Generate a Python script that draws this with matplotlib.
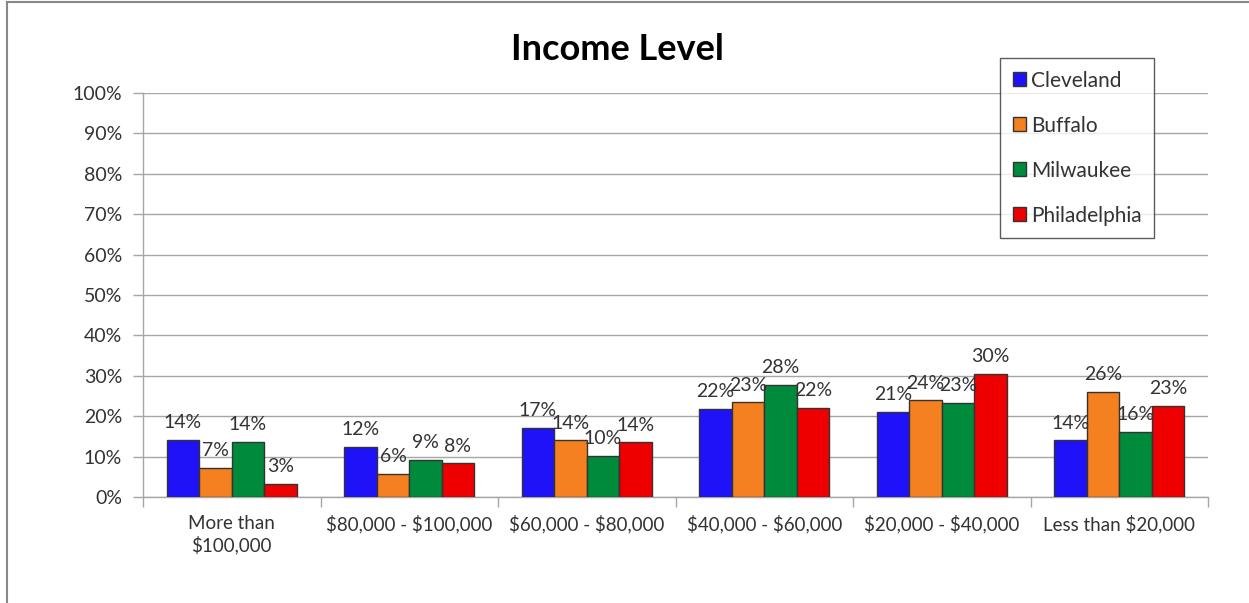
import numpy as np
import matplotlib.pyplot as plt
from matplotlib.lines import Line2D
from matplotlib.ticker import PercentFormatter

plt.rcParams['font.family'] = ['Lato', 'DejaVu Sans']
plt.rcParams['text.parse_math'] = False

categories = ['More than\n$100,000', '$80,000 - $100,000', '$60,000 - $80,000',
              '$40,000 - $60,000', '$20,000 - $40,000', 'Less than $20,000']
cities = ['Cleveland', 'Buffalo', 'Milwaukee', 'Philadelphia']
colors = ['#1F12F9', '#F5801F', '#008A3C', '#EE0000']

cleveland = [0.141, 0.124, 0.172, 0.218, 0.210, 0.140]
buffalo = [0.073, 0.056, 0.140, 0.234, 0.239, 0.259]
milwaukee = [0.136, 0.092, 0.102, 0.277, 0.232, 0.162]
philadelphia = [0.032, 0.083, 0.135, 0.220, 0.304, 0.226]
series = [cleveland, buffalo, milwaukee, philadelphia]

fs = 14

fig = plt.figure(figsize=(12.49, 6.03), dpi=100)
ax = fig.add_axes([143 / 1249, 1 - 497 / 603, (1208 - 143) / 1249, (497 - 93) / 603])

x = np.arange(len(categories))
width = 0.183
for i, (vals, name, c) in enumerate(zip(series, cities, colors)):
    pos = x + (i - 1.5) * width
    bars = ax.bar(pos, vals, width, color=c, edgecolor='#333333', linewidth=1.0,
                  label=name, zorder=3)
    for b, v in zip(bars, vals):
        ax.text(b.get_x() + b.get_width() / 2, v + 0.022, f'{v:.0%}',
                ha='center', va='bottom', fontsize=fs, color='#333333', zorder=4)

ax.set_xlim(-0.5, len(categories) - 0.5)
ax.set_ylim(0, 1)
ax.set_yticks(np.arange(0, 1.01, 0.1))
ax.yaxis.set_major_formatter(PercentFormatter(1.0, decimals=0))
ax.yaxis.grid(True, color='#A6A6A6', linewidth=1.0, zorder=0)

ax.set_xticks(x)
ax.set_xticklabels(categories, fontsize=13.5, color='#333333', linespacing=1.25)
ax.set_xticks(np.arange(-0.5, len(categories)), minor=True)
ax.tick_params(axis='x', which='major', length=0, pad=13)
ax.tick_params(axis='x', which='minor', length=7, color='#A6A6A6', width=1)
ax.tick_params(axis='y', length=7, color='#A6A6A6', width=1, labelsize=fs,
               labelcolor='#333333', pad=8)

for side in ['top', 'right']:
    ax.spines[side].set_visible(False)
for side in ['left', 'bottom']:
    ax.spines[side].set_color('#A6A6A6')
    ax.spines[side].set_linewidth(1.0)

fig.text(617 / 1249, 1 - 50 / 603, 'Income Level', ha='center', va='center',
         fontsize=26, fontweight='bold')

leg = ax.legend(loc='upper left', bbox_to_anchor=((1000 - 143) / (1208 - 143), 1 + (93 - 58) / 404),
                frameon=True, fancybox=False, fontsize=15, labelspacing=1.2,
                handlelength=0.65, handleheight=0.65, handletextpad=0.25,
                borderpad=0.6, borderaxespad=0)
leg.get_frame().set_edgecolor('#333333')
leg.get_frame().set_linewidth(1.0)
for t in leg.get_texts():
    t.set_color('#333333')

# chart area border
fig.add_artist(Line2D([7 / 1249, 7 / 1249], [0, 1 - 2 / 603], transform=fig.transFigure,
                      color='#888888', linewidth=1.5))
fig.add_artist(Line2D([7 / 1249, 1], [1 - 2 / 603, 1 - 2 / 603], transform=fig.transFigure,
                      color='#888888', linewidth=1.5))

fig.savefig('out.png', dpi=100)
